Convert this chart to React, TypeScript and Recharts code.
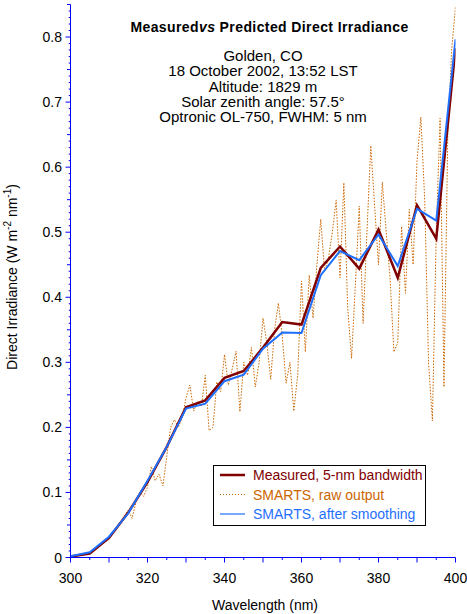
import { LineChart, Line, XAxis, YAxis, Legend, Customized } from 'recharts';

const AXIS = '#0000ff';
const RED = '#800000';
const ORANGE = '#cc6600';
const BLUE = '#1f6fff';
const FONT = '"Liberation Sans", Arial, sans-serif';

// 5-nm grid for the measured and smoothed spectra
const bandWavelengths = [
  300, 305, 310, 315, 320, 325, 330, 335, 340, 345, 350,
  355, 360, 365, 370, 375, 380, 385, 390, 395, 400,
];
const measured = [
  0.0015, 0.006, 0.03, 0.069, 0.116, 0.17, 0.231, 0.2415, 0.276, 0.2866, 0.3226,
  0.362, 0.358, 0.445, 0.478, 0.444, 0.504, 0.43, 0.5415, 0.49, 0.783,
];
const smoothed = [
  0.002, 0.008, 0.032, 0.068, 0.118, 0.17, 0.229, 0.2364, 0.271, 0.281, 0.321,
  0.3457, 0.345, 0.434, 0.471, 0.457, 0.4965, 0.448, 0.536, 0.518, 0.7965,
];

// SMARTS raw output, 1-nm steps from 300 nm
const rawIrradiance = [
  0.001, 0.002, 0.003, 0.004, 0.005, 0.007, 0.011, 0.016, 0.021, 0.024,
  0.028, 0.04, 0.044, 0.052, 0.064, 0.073, 0.06, 0.085, 0.1, 0.094,
  0.108, 0.14, 0.118, 0.128, 0.11, 0.155, 0.2, 0.212, 0.2, 0.215,
  0.245, 0.265, 0.225, 0.24, 0.232, 0.28, 0.195, 0.2, 0.27, 0.255,
  0.312, 0.265, 0.29, 0.317, 0.224, 0.3, 0.28, 0.323, 0.262, 0.3,
  0.368, 0.33, 0.274, 0.35, 0.391, 0.34, 0.268, 0.3, 0.225, 0.28,
  0.425, 0.316, 0.434, 0.368, 0.45, 0.52, 0.44, 0.46, 0.5, 0.549,
  0.43, 0.576, 0.383, 0.306, 0.42, 0.54, 0.36, 0.5, 0.633, 0.539,
  0.45, 0.577, 0.5, 0.43, 0.316, 0.33, 0.509, 0.406, 0.535, 0.45,
  0.609, 0.677, 0.55, 0.3, 0.21, 0.5, 0.675, 0.262, 0.65, 0.78,
  0.847,
];

const xLabels = [300, 320, 340, 360, 380, 400];
const yLabels = [0, 0.1, 0.2, 0.3, 0.4, 0.5, 0.6, 0.7, 0.8];
const xTicks = Array.from({ length: 21 }, (_, i) => 300 + i * 5);
const yTicks = Array.from({ length: 86 }, (_, i) => i / 100);

const subtitle = [
  'Golden, CO',
  '18 October 2002, 13:52 LST',
  'Altitude: 1829 m',
  'Solar zenith angle: 57.5°',
  'Optronic OL-750, FWHM: 5 nm',
];

const legendItems = [
  { label: 'Measured, 5-nm bandwidth', color: RED, width: 2.5, dash: undefined },
  { label: 'SMARTS, raw output', color: ORANGE, width: 1, dash: '1 2' },
  { label: 'SMARTS, after smoothing', color: BLUE, width: 1.2, dash: undefined },
];

const bandData = bandWavelengths.map((w, i) => ({ w, measured: measured[i], smoothed: smoothed[i] }));
const rawData = rawIrradiance.map((v, i) => ({ w: 300 + i, raw: v }));

const yTickLen = (v: number) => {
  const c = Math.round(v * 100);
  if (c % 10 === 0) return 5;
  if (c % 5 === 0) return 3.5;
  return 1.8;
};

const BottomTick = (props: any) => {
  const { x, y, payload } = props;
  const v = payload.value;
  return (
    <g>
      <line x1={x} x2={x} y1={y} y2={y + (v % 10 === 0 ? 5 : 2.5)} stroke={AXIS} />
      {xLabels.includes(v) && (
        <text x={x} y={y + 25} textAnchor="middle" fontSize={14} fontFamily={FONT} fill="#000">
          {v}
        </text>
      )}
    </g>
  );
};

const TopTick = (props: any) => {
  const { x, y, payload } = props;
  const v = payload.value;
  return <line x1={x} x2={x} y1={y} y2={y - (v % 10 === 0 ? 4 : 2)} stroke={AXIS} />;
};

const LeftTick = (props: any) => {
  const { x, y, payload } = props;
  const v = payload.value;
  const c = Math.round(v * 100);
  const label = yLabels.find((l) => Math.round(l * 100) === c);
  return (
    <g>
      <line x1={x - yTickLen(v)} x2={x} y1={y} y2={y} stroke={AXIS} />
      {label !== undefined && (
        <text x={x - 8.5} y={y + 5} textAnchor="end" fontSize={14} fontFamily={FONT} fill="#000">
          {String(label)}
        </text>
      )}
    </g>
  );
};

const RightTick = (props: any) => {
  const { x, y, payload } = props;
  return <line x1={x} x2={x + yTickLen(payload.value)} y1={y} y2={y} stroke={AXIS} />;
};

const Annotations = () => (
  <g fontFamily={FONT} fill="#000">
    <text x={269.5} y={32} textAnchor="middle" fontSize={14} fontWeight="bold" letterSpacing={0.4}>
      Measured<tspan fontStyle="italic">vs</tspan> Predicted Direct Irradiance
    </text>
    {subtitle.map((s, i) => (
      <text key={s} x={263} y={61 + i * 15.3} textAnchor="middle" fontSize={15}>
        {s}
      </text>
    ))}
    <text transform="translate(16.5,277) rotate(-90)" textAnchor="middle" fontSize={14}>
      Direct Irradiance (W m<tspan fontSize={10} dy={-6}>-2</tspan>
      <tspan dy={6}> nm</tspan>
      <tspan fontSize={10} dy={-6}>-1</tspan>
      <tspan dy={6}>)</tspan>
    </text>
    <text x={265} y={610} textAnchor="middle" fontSize={14}>
      Wavelength (nm)
    </text>
  </g>
);

const LegendBox = () => (
  <div style={{ width: 213, height: 61, border: '1px solid #000', boxSizing: 'border-box', background: '#fff' }}>
    <svg width={211} height={59} style={{ display: 'block' }}>
      {legendItems.map((it, i) => {
        const cy = 9 + i * 19.5;
        return (
          <g key={it.label}>
            <line x1={6} x2={31} y1={cy} y2={cy} stroke={it.color} strokeWidth={it.width} strokeDasharray={it.dash} />
            <text x={39} y={cy + 5} fontSize={14} fontFamily={FONT} fill={it.color}>
              {it.label}
            </text>
          </g>
        );
      })}
    </svg>
  </div>
);

export default function App() {
  return (
    <div style={{ position: 'absolute', left: 0, top: 0 }}>
      <LineChart width={467} height={614} margin={{ top: 4.5, right: 11.5, left: 0, bottom: 0 }}>
        <XAxis
          xAxisId="bottom"
          dataKey="w"
          type="number"
          domain={[300, 400]}
          allowDataOverflow
          ticks={xTicks}
          interval={0}
          height={56.5}
          stroke={AXIS}
          tickLine={false}
          tickSize={0}
          tickMargin={0}
          tick={<BottomTick />}
        />
        <XAxis
          xAxisId="top"
          orientation="top"
          dataKey="w"
          type="number"
          domain={[300, 400]}
          allowDataOverflow
          ticks={xTicks}
          interval={0}
          height={0}
          stroke={AXIS}
          tickLine={false}
          tickSize={0}
          tickMargin={0}
          tick={<TopTick />}
        />
        <YAxis
          yAxisId="left"
          type="number"
          domain={[0, 0.85]}
          allowDataOverflow
          ticks={yTicks}
          interval={0}
          width={70.5}
          stroke={AXIS}
          tickLine={false}
          tickSize={0}
          tickMargin={0}
          tick={<LeftTick />}
        />
        <YAxis
          yAxisId="right"
          orientation="right"
          type="number"
          domain={[0, 0.85]}
          allowDataOverflow
          ticks={yTicks}
          interval={0}
          width={0}
          stroke={AXIS}
          tickLine={false}
          tickSize={0}
          tickMargin={0}
          tick={<RightTick />}
        />
        <Line
          data={rawData}
          xAxisId="top"
          yAxisId="right"
          dataKey="raw"
          name="SMARTS, raw output"
          stroke={ORANGE}
          strokeWidth={1}
          strokeDasharray="1.5 1.5"
          dot={false}
          isAnimationActive={false}
        />
        <Line
          data={bandData}
          xAxisId="bottom"
          yAxisId="left"
          dataKey="measured"
          name="Measured, 5-nm bandwidth"
          stroke={RED}
          strokeWidth={2.5}
          dot={false}
          isAnimationActive={false}
        />
        <Line
          data={bandData}
          xAxisId="bottom"
          yAxisId="left"
          dataKey="smoothed"
          name="SMARTS, after smoothing"
          stroke={BLUE}
          strokeWidth={2}
          dot={false}
          isAnimationActive={false}
        />
        <Customized component={Annotations} />
        <Legend
          layout="vertical"
          align="center"
          verticalAlign="middle"
          wrapperStyle={{ left: 213, top: 465, width: 213, height: 61 }}
          content={<LegendBox />}
        />
      </LineChart>
    </div>
  );
}
